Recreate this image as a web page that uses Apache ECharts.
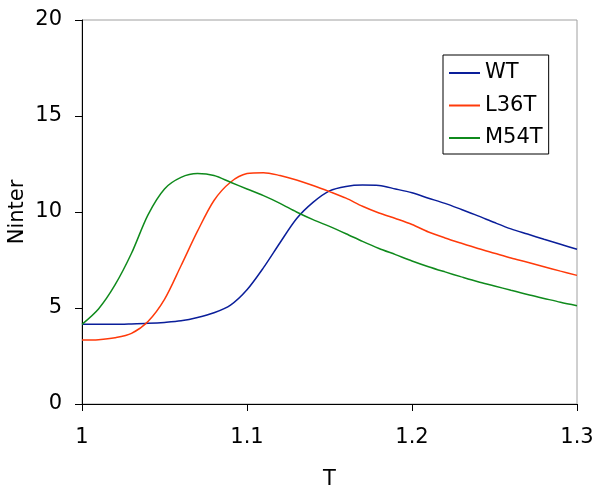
<!DOCTYPE html>
<html>
<head>
<meta charset="utf-8">
<script src="https://cdn.jsdelivr.net/npm/echarts@6/dist/echarts.min.js"></script>
<style>
  html, body { margin: 0; padding: 0; background: #fff; }
  #chart { width: 601px; height: 493px; }
</style>
</head>
<body>
<div id="chart"></div>
<script>
// temperature (x axis)
var temps = [1.00, 1.01, 1.02, 1.03, 1.04, 1.05, 1.06, 1.07, 1.08, 1.09,
             1.10, 1.11, 1.12, 1.13, 1.14, 1.15, 1.16, 1.17, 1.18, 1.19,
             1.20, 1.21, 1.22, 1.23, 1.24, 1.25, 1.26, 1.27, 1.28, 1.29, 1.30];

var wt = [4.15, 4.15, 4.15, 4.17, 4.2, 4.25, 4.33, 4.5, 4.75, 5.15,
          5.95, 7.1, 8.4, 9.65, 10.5, 11.1, 11.33, 11.4, 11.38, 11.2,
          11.0, 10.72, 10.45, 10.13, 9.8, 9.45, 9.12, 8.85, 8.58, 8.32, 8.06];

var l36t = [3.33, 3.35, 3.45, 3.68, 4.3, 5.45, 7.2, 9.0, 10.6, 11.55,
            12.0, 12.05, 11.9, 11.67, 11.38, 11.06, 10.72, 10.3, 9.95, 9.66,
            9.35, 8.96, 8.65, 8.37, 8.1, 7.85, 7.6, 7.38, 7.15, 6.92, 6.7];

var m54t = [4.15, 4.95, 6.2, 7.85, 9.85, 11.2, 11.8, 12.0, 11.9, 11.55,
            11.2, 10.85, 10.45, 10.0, 9.6, 9.25, 8.87, 8.47, 8.1, 7.78,
            7.45, 7.15, 6.88, 6.62, 6.37, 6.15, 5.92, 5.7, 5.5, 5.3, 5.12];

var names = ['WT', 'L36T', 'M54T'];
var colors = ['#0a1e9a', '#ff3a0a', '#0f8a1c'];

function pairs(ys) {
  return temps.map(function (t, i) { return [t, ys[i]]; });
}

var font = 'DejaVu Sans';

var chart = echarts.init(document.getElementById('chart'));
var option = {
  backgroundColor: '#fff',
  animation: false,
  color: colors,
  grid: {
    show: true,
    left: 82, top: 20, right: 24, bottom: 89,
    outerBoundsMode: 'none',
    containLabel: false,
    borderColor: '#a0a0a0',
    borderWidth: 1,
    backgroundColor: 'transparent'
  },
  legend: {
    orient: 'vertical',
    left: 443, top: 55,
    data: names,
    icon: 'rect',
    itemWidth: 31, itemHeight: 2,
    itemGap: 10.5,
    padding: [7, 6, 5, 6],
    borderColor: '#000',
    borderWidth: 1,
    textStyle: { fontFamily: font, fontSize: 21, color: '#000', lineHeight: 22 }
  },
  xAxis: {
    type: 'value',
    min: 1, max: 1.3, interval: 0.1,
    name: 'T',
    nameLocation: 'middle',
    nameGap: 65,
    nameMoveOverlap: false,
    nameTextStyle: { fontFamily: font, fontSize: 21, color: '#000' },
    axisLine: { lineStyle: { color: '#000', width: 1 } },
    axisTick: { show: true, length: 7, lineStyle: { color: '#000' } },
    axisLabel: { fontFamily: font, fontSize: 21, color: '#000', margin: 23 },
    splitLine: { show: false }
  },
  yAxis: {
    type: 'value',
    min: 0, max: 20, interval: 5,
    name: 'Ninter',
    nameLocation: 'middle',
    nameGap: 54,
    nameMoveOverlap: false,
    nameTextStyle: { fontFamily: font, fontSize: 21, color: '#000' },
    axisLine: { show: true, lineStyle: { color: '#000', width: 1 } },
    axisTick: { show: true, length: 7, lineStyle: { color: '#000' } },
    axisLabel: { fontFamily: font, fontSize: 21, color: '#000', margin: 20 },
    splitLine: { show: false }
  },
  series: [
    { name: 'WT', type: 'line', symbol: 'none', smooth: 0.3, data: pairs(wt),
      lineStyle: { width: 1.5, color: colors[0] } },
    { name: 'L36T', type: 'line', symbol: 'none', smooth: 0.3, data: pairs(l36t),
      lineStyle: { width: 1.5, color: colors[1] } },
    { name: 'M54T', type: 'line', symbol: 'none', smooth: 0.3, data: pairs(m54t),
      lineStyle: { width: 1.5, color: colors[2] } }
  ]
};
chart.setOption(option);
</script>
</body>
</html>
